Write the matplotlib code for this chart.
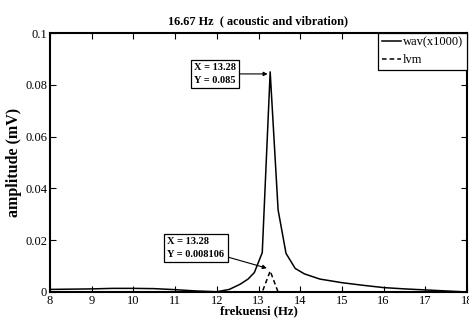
import matplotlib
matplotlib.use("Agg")
import matplotlib.pyplot as plt

# solid: wav (x1000)
wav_x = [8.0, 8.5, 9.0, 9.5, 10.0, 10.5, 11.0, 11.5, 12.0, 12.3, 12.56, 12.75, 12.9, 13.09, 13.28,
         13.47, 13.66, 13.88, 14.1, 14.47, 15.0, 15.5, 16.0, 16.5, 17.0, 17.5, 18.0]
wav_y = [0.0010, 0.0011, 0.0012, 0.0014, 0.0014, 0.0013, 0.0009, 0.0004, 0.0001, 0.0010, 0.0030,
         0.0050, 0.0075, 0.0152, 0.085, 0.0317, 0.0149, 0.0091, 0.0070, 0.0050, 0.0036, 0.0026,
         0.0017, 0.0012, 0.0008, 0.0004, 0.0]

# dashed: lvm
lvm_x = [8.0, 12.5, 13.09, 13.28, 13.47, 14.0, 18.0]
lvm_y = [0.0, 0.0, 0.0, 0.008106, 0.0, 0.0, 0.0]

xticks = [8, 9, 10, 11, 12, 13, 14, 15, 16, 17, 18]
yticks = [0, 0.02, 0.04, 0.06, 0.08, 0.1]
ytick_labels = ["0", "0.02", "0.04", "0.06", "0.08", "0.1"]

serif = ["Liberation Serif", "DejaVu Serif"]
plt.rcParams["font.family"] = serif

fig = plt.figure(figsize=(4.69, 3.22), dpi=100)
ax = fig.add_axes([50 / 469, 1 - 292 / 322, (467 - 50) / 469, (292 - 33) / 322])

ax.plot(wav_x, wav_y, color="black", lw=1.1, label="wav(x1000)")
ax.plot(lvm_x, lvm_y, color="black", lw=1.1, ls=(0, (3, 2)), label="lvm")

ax.set_xlim(8, 18)
ax.set_ylim(0, 0.1)
ax.set_xticks(xticks)
ax.set_yticks(yticks)
ax.set_yticklabels(ytick_labels)
ax.tick_params(direction="in", top=True, right=True, length=4, width=0.8,
               labelsize=9, pad=2)
for s in ax.spines.values():
    s.set_linewidth(1.5)

ax.set_title("16.67 Hz  ( acoustic and vibration)", fontsize=8.8, fontweight="bold", pad=6)
ax.set_xlabel("frekuensi (Hz)", fontsize=9.2, fontweight="bold", labelpad=-1)
ax.set_ylabel("amplitude (mV)", fontsize=11.5, fontweight="bold", labelpad=2)

leg = ax.legend(loc="upper right", fontsize=9, handlelength=1.5, handletextpad=0.2,
                borderpad=0.3, labelspacing=0.45, fancybox=False, edgecolor="black",
                framealpha=1, borderaxespad=0.0)
leg.get_frame().set_linewidth(0.9)

bbox = dict(boxstyle="square,pad=0.3", fc="white", ec="black", lw=0.9)
ax.annotate("X = 13.28\nY = 0.085", xy=(13.22, 0.0842), xytext=(11.96, 0.0842),
            fontsize=7.5, fontweight="bold", ha="center", va="center", multialignment="left",
            linespacing=1.6, bbox=bbox,
            arrowprops=dict(arrowstyle="-|>", color="black", lw=0.8, mutation_scale=6,
                            shrinkA=0, shrinkB=0))
ax.annotate("X = 13.28\nY = 0.008106", xy=(13.2, 0.0092), xytext=(11.50, 0.0170),
            fontsize=7.5, fontweight="bold", ha="center", va="center", multialignment="left",
            linespacing=1.6, bbox=bbox,
            arrowprops=dict(arrowstyle="-|>", color="black", lw=0.8, mutation_scale=6,
                            shrinkA=0, shrinkB=0))

fig.savefig("out.png", dpi=100)
